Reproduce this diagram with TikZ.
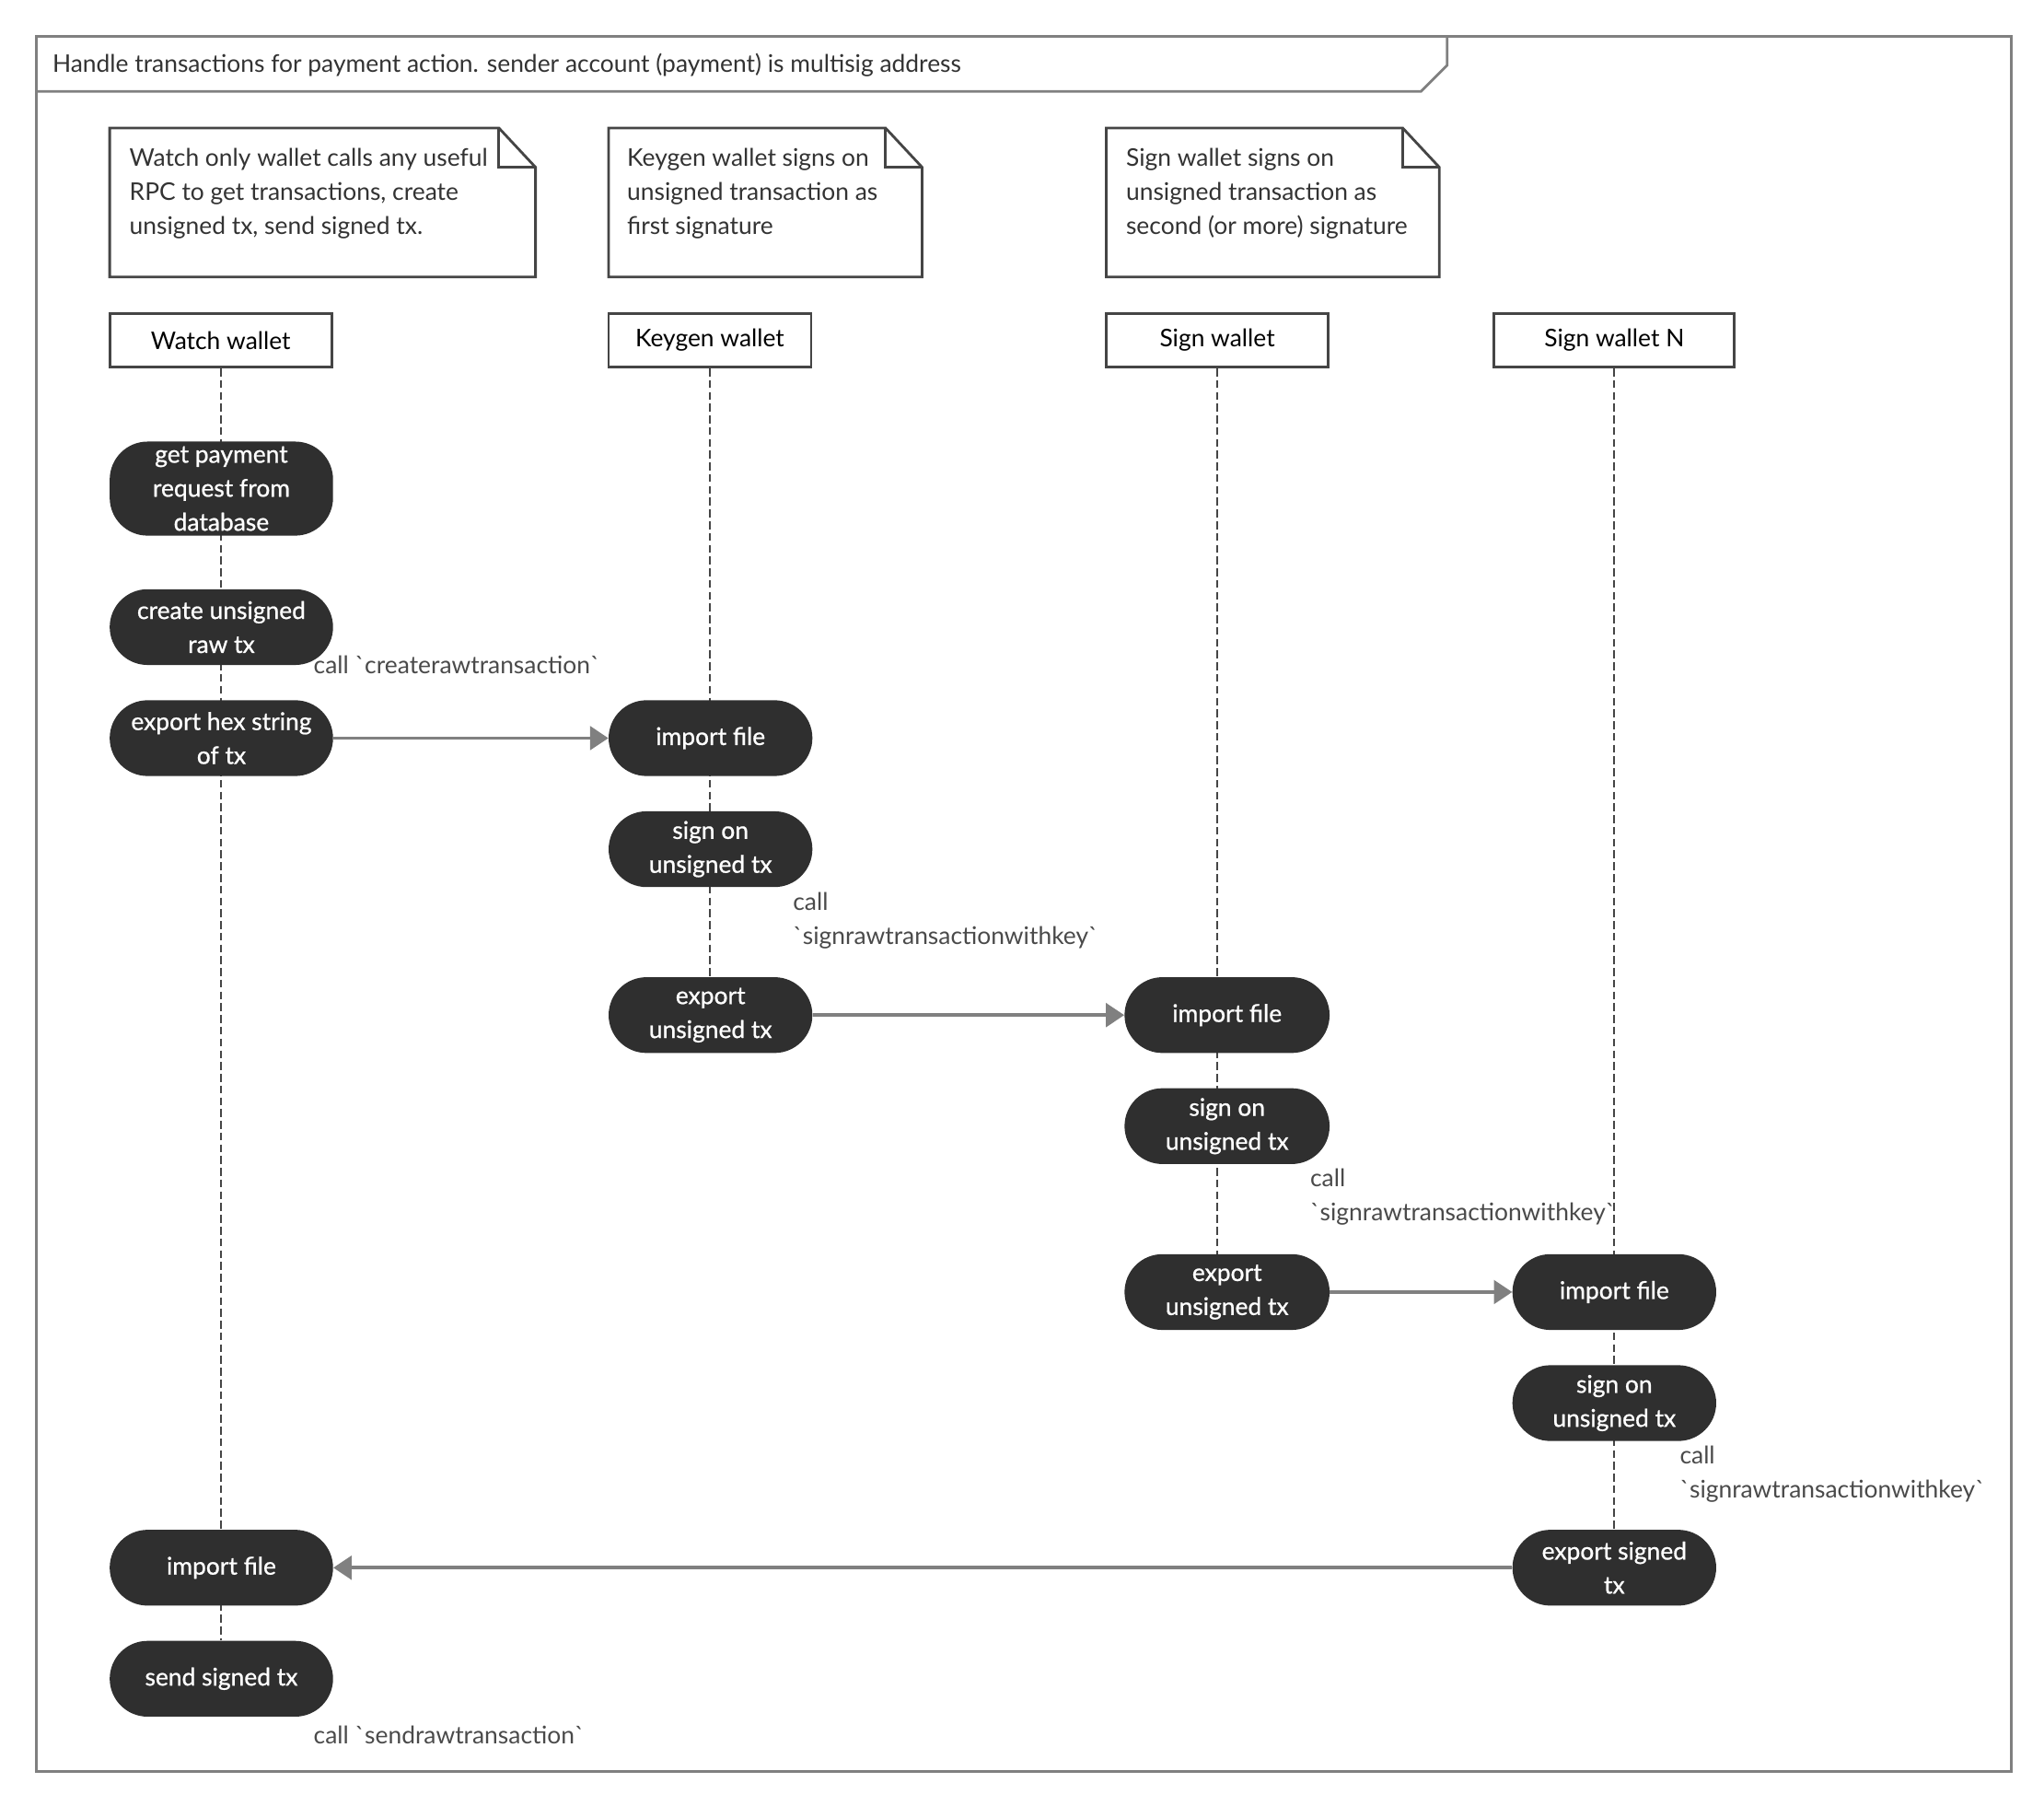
\documentclass[tikz,border=0pt]{standalone}
\usepackage{fontspec}
\setmainfont{Lato}
\newfontfamily\actfont{Lato}[FakeBold=0.8]
\usetikzlibrary{arrows.meta, backgrounds}
\definecolor{framegray}{HTML}{808080}
\definecolor{edgegray}{HTML}{454545}
\definecolor{actdark}{HTML}{2F2F2F}
\definecolor{textgray}{HTML}{333333}
\definecolor{callgray}{HTML}{4A4A4A}

\begin{document}
\begin{tikzpicture}[x=1pt, y=-1pt, font=\fontsize{18.6}{26}\selectfont,
    activity/.style={fill=actdark, text=white, font=\fontsize{18.6}{26}\actfont, rounded corners=29pt, minimum height=58pt, align=center, inner sep=0pt},
    headbox/.style={draw=edgegray, line width=2pt, fill=white, minimum height=41pt, inner sep=0pt},
    msgarrow/.style={-{Triangle[length=14pt, width=18pt]}, draw=framegray, line width=2.5pt},
    lifeline/.style={draw=edgegray, line width=1.5pt, dash pattern=on 6pt off 3pt},
    notetext/.style={text=textgray, align=left, anchor=west, inner sep=0pt},
    calltext/.style={text=callgray, align=left, anchor=west, inner sep=0pt}]
    \useasboundingbox (0,0) rectangle (1565,1382);

    % Marco y titulo
    \draw[framegray, line width=2pt] (28,28) rectangle (1540,1356);
    \draw[framegray, line width=2pt] (28,70) -- (1088,70) -- (1108,50) -- (1108,28);
    \node[anchor=west, text=textgray, inner sep=0pt] (title) at (40,50) {Handle transactions for payment action. sender account (payment) is multisig address};

    % Notas
    \draw[edgegray, line width=2pt, fill=white] (84,98) -- (382,98) -- (410,128) -- (410,212) -- (84,212) -- cycle;
    \draw[edgegray, line width=2pt] (382,98) -- (382,128) -- (410,128);
    \node[notetext] (notewatch) at (99,148) {Watch only wallet calls any useful\\RPC to get transactions, create\\unsigned tx, send signed tx.};

    \draw[edgegray, line width=2pt, fill=white] (466,98) -- (678,98) -- (706,128) -- (706,212) -- (466,212) -- cycle;
    \draw[edgegray, line width=2pt] (678,98) -- (678,128) -- (706,128);
    \node[notetext] (notekeygen) at (480,148) {Keygen wallet signs on\\unsigned transaction as\\first signature};

    \draw[edgegray, line width=2pt, fill=white] (847,98) -- (1074,98) -- (1102,128) -- (1102,212) -- (847,212) -- cycle;
    \draw[edgegray, line width=2pt] (1074,98) -- (1074,128) -- (1102,128);
    \node[notetext] (notesign) at (862,148) {Sign wallet signs on\\unsigned transaction as\\second (or more) signature};

    % Cabeceras de las lineas de vida
    \node[headbox, minimum width=170pt] (watch) at (169,260.5) {Watch wallet};
    \node[headbox, minimum width=155pt] (keygen) at (543.5,260.5) {Keygen wallet};
    \node[headbox, minimum width=170pt] (sign) at (932,260.5) {Sign wallet};
    \node[headbox, minimum width=184pt] (signn) at (1236,260.5) {Sign wallet N};

    % Watch wallet
    \node[activity, minimum width=171pt, minimum height=72pt] (getreq) at (169.5,374) {get payment\\request from\\database};
    \node[activity, minimum width=171pt] (createtx) at (169.5,480) {create unsigned\\raw tx};
    \node[activity, minimum width=171pt] (exphex) at (169.5,565) {export hex string\\of tx};
    \node[activity, minimum width=171pt] (watchimp) at (169.5,1200) {import file};
    \node[activity, minimum width=171pt] (sendtx) at (169.5,1285) {send signed tx};

    % Keygen wallet
    \node[activity, minimum width=156pt] (keyimp) at (544,565) {import file};
    \node[activity, minimum width=156pt] (keysign) at (544,650) {sign on\\unsigned tx};
    \node[activity, minimum width=156pt] (keyexp) at (544,777) {export\\unsigned tx};

    % Sign wallet
    \node[activity, minimum width=157pt] (signimp) at (939.5,777) {import file};
    \node[activity, minimum width=157pt] (signsign) at (939.5,862) {sign on\\unsigned tx};
    \node[activity, minimum width=157pt] (signexp) at (939.5,989) {export\\unsigned tx};

    % Sign wallet N
    \node[activity, minimum width=156pt] (nimp) at (1236,989) {import file};
    \node[activity, minimum width=156pt] (nsign) at (1236,1074) {sign on\\unsigned tx};
    \node[activity, minimum width=156pt] (nexp) at (1236,1200) {export signed\\tx};

    % Llamadas RPC
    \node[calltext] (callcreate) at (240,509) {call \textasciigrave createrawtransaction\textasciigrave};
    \node[calltext] (callkey) at (607,704.5) {call\\\textasciigrave signrawtransactionwithkey\textasciigrave};
    \node[calltext] (callsign) at (1003,916.5) {call\\\textasciigrave signrawtransactionwithkey\textasciigrave};
    \node[calltext] (calln) at (1286,1128.5) {call\\\textasciigrave signrawtransactionwithkey\textasciigrave};
    \node[calltext] (callsend) at (240,1328) {call \textasciigrave sendrawtransaction\textasciigrave};

    % Lineas de vida
    \begin{scope}[on background layer]
        \draw[lifeline] (watch.south) -- (watch.south |- sendtx.north);
        \draw[lifeline] (keygen.south) -- (keygen.south |- keyexp.north);
        \draw[lifeline] (sign.south) -- (sign.south |- signexp.north);
        \draw[lifeline] (signn.south) -- (signn.south |- nexp.north);
    \end{scope}

    % Mensajes
    \draw[msgarrow] (exphex) -- (keyimp);
    \draw[msgarrow] (keyexp) -- (signimp);
    \draw[msgarrow] (signexp) -- (nimp);
    \draw[msgarrow] (nexp) -- (watchimp);
\end{tikzpicture}
\end{document}
